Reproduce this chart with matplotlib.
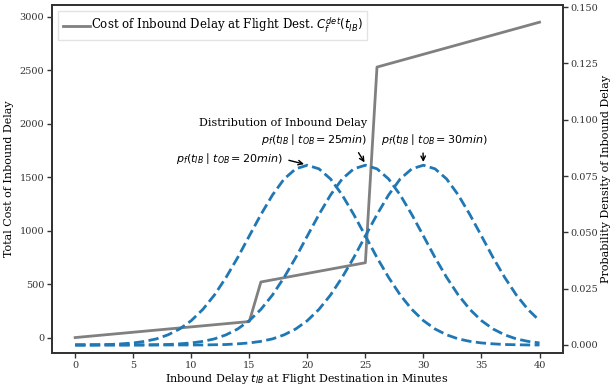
import matplotlib
matplotlib.use("Agg")
import matplotlib.pyplot as plt
from matplotlib.ticker import FormatStrFormatter

# cost curve (piecewise linear)
cost_delay = [0, 15, 16, 25, 26, 40]
cost_value = [0, 150, 520, 700, 2530, 2950]

# inbound delay densities, read at every minute 0..40
minutes = list(range(41))
dens_20 = [0.0000, 0.0000, 0.0001, 0.0002, 0.0005, 0.0009, 0.0016, 0.0027, 0.0045, 0.0071,
           0.0108, 0.0158, 0.0222, 0.0300, 0.0388, 0.0484, 0.0579, 0.0666, 0.0737, 0.0782,
           0.0798, 0.0782, 0.0737, 0.0666, 0.0579, 0.0484, 0.0388, 0.0300, 0.0222, 0.0158,
           0.0108, 0.0071, 0.0045, 0.0027, 0.0016, 0.0009, 0.0005, 0.0002, 0.0001, 0.0000,
           0.0000]
dens_25 = [0.0000, 0.0000, 0.0000, 0.0000, 0.0000, 0.0000, 0.0000, 0.0001, 0.0002, 0.0005,
           0.0009, 0.0016, 0.0027, 0.0045, 0.0071, 0.0108, 0.0158, 0.0222, 0.0300, 0.0388,
           0.0484, 0.0579, 0.0666, 0.0737, 0.0782, 0.0798, 0.0782, 0.0737, 0.0666, 0.0579,
           0.0484, 0.0388, 0.0300, 0.0222, 0.0158, 0.0108, 0.0071, 0.0045, 0.0027, 0.0016,
           0.0009]
dens_30 = [0.0000, 0.0000, 0.0000, 0.0000, 0.0000, 0.0000, 0.0000, 0.0000, 0.0000, 0.0000,
           0.0000, 0.0000, 0.0001, 0.0002, 0.0005, 0.0009, 0.0016, 0.0027, 0.0045, 0.0071,
           0.0108, 0.0158, 0.0222, 0.0300, 0.0388, 0.0484, 0.0579, 0.0666, 0.0737, 0.0782,
           0.0798, 0.0782, 0.0737, 0.0666, 0.0579, 0.0484, 0.0388, 0.0300, 0.0222, 0.0158,
           0.0108]

x_ticks = [0, 5, 10, 15, 20, 25, 30, 35, 40]
cost_ticks = [0, 500, 1000, 1500, 2000, 2500, 3000]
dens_ticks = [0.0, 0.025, 0.05, 0.075, 0.1, 0.125, 0.15]

plt.rcParams['font.family'] = ['DejaVu Serif']
plt.rcParams['mathtext.fontset'] = 'dejavusans'
plt.rcParams['font.size'] = 7

fig = plt.figure(figsize=(6.11, 3.91), dpi=100)
ax = fig.add_axes([0.085, 0.097, 0.836, 0.89])
ax2 = ax.twinx()

ax.plot(cost_delay, cost_value, color="gray", lw=2,
        label=r"Cost of Inbound Delay at Flight Dest. $C_f^{det}(t_{IB})$")
for d in (dens_20, dens_25, dens_30):
    ax2.plot(minutes, d, color="#1f77b4", lw=2, ls="--")

ax.set_xlim(-2, 42)
ax.set_ylim(-145, 3110)
ax2.set_ylim(-0.0036, 0.1509)
ax.set_xticks(x_ticks)
ax.set_yticks(cost_ticks)
ax2.set_yticks(dens_ticks)
ax2.yaxis.set_major_formatter(FormatStrFormatter('%.3f'))

ax.set_xlabel(r"Inbound Delay $t_{IB}$ at Flight Destination in Minutes", labelpad=2, fontsize=8)
ax.set_ylabel("Total Cost of Inbound Delay", labelpad=4, fontsize=8)
ax2.set_ylabel("Probability Density of Inbound Delay", labelpad=2, fontsize=8)

for a in (ax, ax2):
    for s in a.spines.values():
        s.set_color("#333333")
        s.set_linewidth(1.3)
    a.tick_params(colors="#333333", labelcolor="#333333", direction="out",
                  length=3.5, width=1, pad=2)

leg = ax.legend(loc="upper left", handlelength=2.3, handletextpad=0.1, fancybox=False,
                borderaxespad=0.5, fontsize=8.5)
leg.get_frame().set_edgecolor("#dddddd")

arrow = dict(arrowstyle="->", color="black", lw=1)
ax2.text(17.9, 0.0985, "Distribution of Inbound Delay", ha="center", va="center", fontsize=8)
ax2.annotate(r"$p_f(t_{IB}\mid t_{OB}=25min)$", xy=(25.05, 0.0800), xytext=(20.56, 0.091),
             ha="center", va="center", fontsize=8, arrowprops=dict(arrow, relpos=(0.89, 0.0)))
ax2.annotate(r"$p_f(t_{IB}\mid t_{OB}=30min)$", xy=(30.0, 0.0800), xytext=(30.97, 0.091),
             ha="center", va="center", fontsize=8, arrowprops=dict(arrow, relpos=(0.39, 0.0)))
ax2.annotate(r"$p_f(t_{IB}\mid t_{OB}=20min)$", xy=(19.95, 0.0800), xytext=(13.33, 0.0826),
             ha="center", va="center", fontsize=8, arrowprops=dict(arrow, relpos=(1.0, 0.5)))

fig.savefig("out.png", dpi=100)
